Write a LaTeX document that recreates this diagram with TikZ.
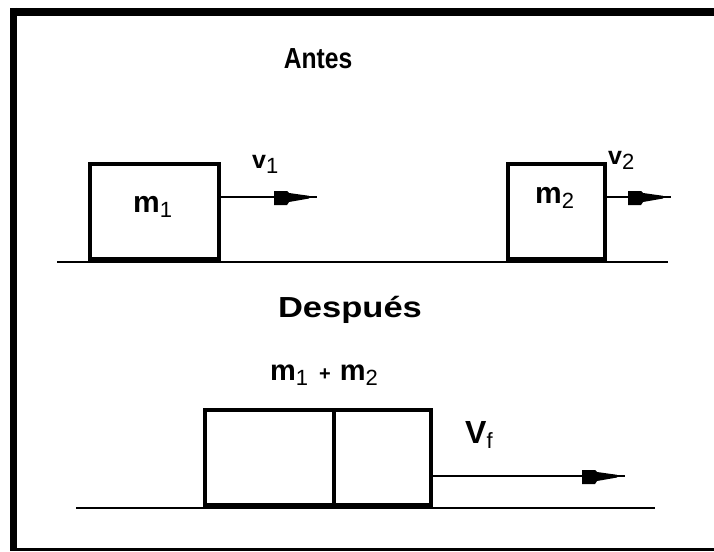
\documentclass[tikz,border=0pt]{standalone}
\usepackage{fontspec}
\setmainfont{Liberation Sans}
\newcommand{\mysub}[1]{\raisebox{-5pt}{\fontsize{22}{22}\mdseries\selectfont #1}}
\begin{document}
\begin{tikzpicture}[x=1pt,y=-1pt,
  blockbox/.style={draw, line width=4pt, rectangle, inner sep=0pt, minimum height=95pt},
  ground/.style={line width=2pt},
  vel/.style={line width=1.5pt},
  title/.style={font=\fontsize{29}{29}\bfseries\selectfont, inner sep=0pt, anchor=base},
  lab/.style={inner sep=0pt, anchor=base west},
  vfont/.style={font=\fontsize{25}{25}\bfseries\selectfont},
  mfont/.style={font=\fontsize{30}{30}\bfseries\selectfont},
  head/.pic={\fill (-43,-6) -- (-30,-6) -- (-28,-4) -- (-8,-1.2) -- (-8,1.5) -- (-28,5) -- (-30,8) -- (-43,8) -- cycle;}
]
\useasboundingbox (0,0) rectangle (714,551);
% frame
\draw[line width=8pt] (10,12) -- (714,12);
\draw[line width=7pt] (13.5,8) -- (13.5,551);
\draw[line width=3pt] (10,549.5) -- (714,549.5);

% titles
\node[title] (antes) at (318,68) {\scalebox{0.85}[1]{Antes}};
\node[title] (despues) at (350,317) {\scalebox{1.19}[1]{Después}};

% before
\coordinate (g1a) at (57,261.5);
\coordinate (g1b) at (668,261.5);
\draw[ground] (g1a) -- (g1b);
\node[blockbox, minimum width=129pt] (b1) at (154,211) {};
\node[blockbox, minimum width=97pt] (b2) at (556,211) {};
\node[lab, mfont] (m1) at (133,212) {m\mysub{1}};
\node[lab, mfont] (m2) at (535,203) {m\mysub{2}};
\coordinate (v1end) at (317,197);
\coordinate (v2end) at (671,197);
\draw[vel] (b1.east |- v1end) -- (v1end);
\pic at (v1end) {head};
\draw[vel] (b2.east |- v2end) -- (v2end);
\pic at (v2end) {head};
\node[lab, vfont] (v1) at (252,168) {v\mysub{1}};
\node[lab, vfont] (v2) at (608,164) {v\mysub{2}};

% after
\coordinate (g2a) at (76,508);
\coordinate (g2b) at (655,508);
\draw[ground] (g2a) -- (g2b);
\node[blockbox, minimum width=128.5pt] (b3a) at (269.25,457.5) {};
\node[blockbox, minimum width=97.5pt] (b3b) at (382.25,457.5) {};
\node[lab, font=\fontsize{29}{29}\bfseries\selectfont] (msum) at (270,380) {m\mysub{1}\hspace{11pt}{\fontsize{20}{20}\selectfont +}\hspace{9pt}m\mysub{2}};
\coordinate (vfend) at (625,476);
\draw[vel] (b3b.east |- vfend) -- (vfend);
\pic at (vfend) {head};
\node[lab, font=\fontsize{32}{32}\bfseries\selectfont] (vf) at (465,443) {V\mysub{f}};
\end{tikzpicture}
\end{document}
